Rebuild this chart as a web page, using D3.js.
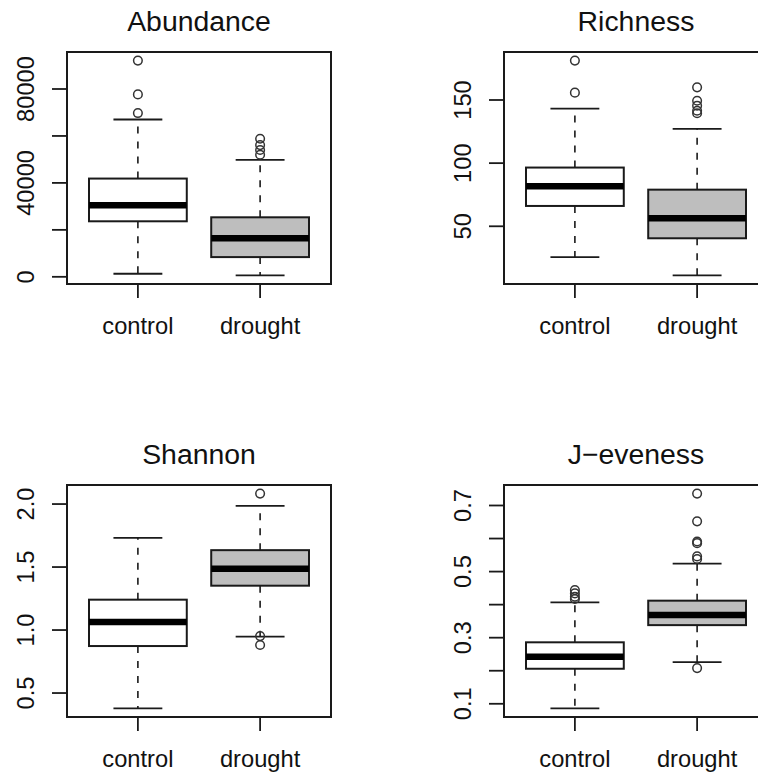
<!DOCTYPE html>
<html>
<head>
<meta charset="utf-8">
<script src="https://cdn.jsdelivr.net/npm/d3@7"></script>
<style>
  html, body { margin: 0; padding: 0; background: #fff; }
  svg { display: block; }
  text { font-family: "Liberation Sans", Arial, sans-serif; fill: #111; }
</style>
</head>
<body>
<div id="chart"></div>
<script>
// ---- Data ----
const categories = ["control", "drought"];
const boxFills = ["#ffffff", "#bebebe"];

const titles = ["Abundance", "Richness", "Shannon", "J\u2212eveness"];

// [lower whisker, Q1, median, Q3, upper whisker] per category
const abundanceStats = [[1300, 23650, 30500, 41850, 67000], [600, 8400, 16400, 25350, 49800]];
const abundanceOutliers = [[92100, 77700, 69750], [58800, 56100, 54000, 52000]];
const abundanceTicks = [0, 20000, 40000, 60000, 80000];
const abundanceTickLabels = ["0", "", "40000", "", "80000"];

const richnessStats = [[25.6, 66.1, 81.7, 96.5, 143.1], [11.1, 40.5, 56.3, 79.0, 127.2]];
const richnessOutliers = [[181.2, 155.8], [160, 149.4, 145.5, 141.5, 139.5]];
const richnessTicks = [50, 100, 150];
const richnessTickLabels = ["50", "100", "150"];

const shannonStats = [[0.378, 0.873, 1.064, 1.241, 1.731], [0.947, 1.352, 1.487, 1.634, 1.986]];
const shannonOutliers = [[], [2.083, 0.952, 0.881]];
const shannonTicks = [0.5, 1.0, 1.5, 2.0];
const shannonTickLabels = ["0.5", "1.0", "1.5", "2.0"];

const evenessStats = [[0.086, 0.206, 0.242, 0.286, 0.407], [0.226, 0.338, 0.369, 0.412, 0.524]];
const evenessOutliers = [[0.444, 0.434, 0.424, 0.417], [0.736, 0.652, 0.591, 0.586, 0.546, 0.538, 0.208]];
const evenessTicks = [0.1, 0.2, 0.3, 0.4, 0.5, 0.6, 0.7];
const evenessTickLabels = ["0.1", "", "0.3", "", "0.5", "", "0.7"];

// ---- Layout ----
const W = 758, H = 781;
const panelOrigins = [[67, 52], [504, 52], [67, 485], [504, 485]];
const plotW = 264, plotH = 232;

const panels = [
  { stats: abundanceStats, out: abundanceOutliers, ticks: abundanceTicks, labels: abundanceTickLabels },
  { stats: richnessStats, out: richnessOutliers, ticks: richnessTicks, labels: richnessTickLabels },
  { stats: shannonStats, out: shannonOutliers, ticks: shannonTicks, labels: shannonTickLabels },
  { stats: evenessStats, out: evenessOutliers, ticks: evenessTicks, labels: evenessTickLabels }
];

const svg = d3.select("#chart").append("svg")
  .attr("width", W).attr("height", H);

const LINE = "#1a1a1a";
const axisFont = 23.7, titleFont = 28.4;

panels.forEach((p, i) => {
  const [x0, y0] = panelOrigins[i];
  const g = svg.append("g").attr("transform", `translate(${x0},${y0})`);

  const n = categories.length;
  const x = d3.scaleLinear()
    .domain([0.5 - 0.04 * n, n + 0.5 + 0.04 * n])
    .range([0, plotW]);

  const allVals = p.stats.flat().concat(p.out.flat());
  const [mn, mx] = d3.extent(allVals);
  const pad = (mx - mn) * 0.04;
  const y = d3.scaleLinear().domain([mn - pad, mx + pad]).range([plotH, 0]);

  const boxHalf = (x(1.4) - x(1));
  const capHalf = (x(1.2) - x(1));

  categories.forEach((c, k) => {
    const s = p.stats[k];
    const cx = x(k + 1);
    g.append("line").attr("x1", cx).attr("x2", cx).attr("y1", y(s[3])).attr("y2", y(s[4]))
      .attr("stroke", LINE).attr("stroke-width", 1.6).attr("stroke-dasharray", "7,8");
    g.append("line").attr("x1", cx).attr("x2", cx).attr("y1", y(s[1])).attr("y2", y(s[0]))
      .attr("stroke", LINE).attr("stroke-width", 1.6).attr("stroke-dasharray", "7,8");
    [s[0], s[4]].forEach(v => {
      g.append("line").attr("x1", cx - capHalf).attr("x2", cx + capHalf)
        .attr("y1", y(v)).attr("y2", y(v))
        .attr("stroke", LINE).attr("stroke-width", 1.8);
    });
    g.append("rect").attr("x", cx - boxHalf).attr("width", 2 * boxHalf)
      .attr("y", y(s[3])).attr("height", y(s[1]) - y(s[3]))
      .attr("fill", boxFills[k]).attr("stroke", LINE).attr("stroke-width", 2);
    g.append("line").attr("x1", cx - boxHalf).attr("x2", cx + boxHalf)
      .attr("y1", y(s[2])).attr("y2", y(s[2]))
      .attr("stroke", "#000").attr("stroke-width", 6.5);
    g.selectAll(null).data(p.out[k]).enter().append("circle")
      .attr("cx", cx).attr("cy", d => y(d)).attr("r", 4.3)
      .attr("fill", "none").attr("stroke", "#333").attr("stroke-width", 1.5);
  });

  g.append("rect").attr("x", 0).attr("y", 0).attr("width", plotW).attr("height", plotH)
    .attr("fill", "none").attr("stroke", LINE).attr("stroke-width", 2);

  const yAxis = g.append("g");
  yAxis.selectAll("line").data(p.ticks).enter().append("line")
    .attr("x1", -15).attr("x2", 0).attr("y1", d => y(d)).attr("y2", d => y(d))
    .attr("stroke", LINE).attr("stroke-width", 1.8);
  yAxis.selectAll("text").data(p.ticks).enter().append("text")
    .attr("transform", d => `translate(-33.5,${y(d)}) rotate(-90)`)
    .attr("text-anchor", "middle")
    .attr("font-size", axisFont)
    .text((d, j) => p.labels[j]);

  const xAxis = g.append("g");
  xAxis.selectAll("line").data(categories).enter().append("line")
    .attr("x1", (d, k) => x(k + 1)).attr("x2", (d, k) => x(k + 1))
    .attr("y1", plotH).attr("y2", plotH + 14)
    .attr("stroke", LINE).attr("stroke-width", 1.8);
  xAxis.selectAll("text").data(categories).enter().append("text")
    .attr("x", (d, k) => x(k + 1)).attr("y", plotH + 50)
    .attr("text-anchor", "middle").attr("font-size", axisFont)
    .text(d => d);

  g.append("text").attr("x", plotW / 2).attr("y", -21)
    .attr("text-anchor", "middle").attr("font-size", titleFont)
    .text(titles[i]);
});
</script>
</body>
</html>
